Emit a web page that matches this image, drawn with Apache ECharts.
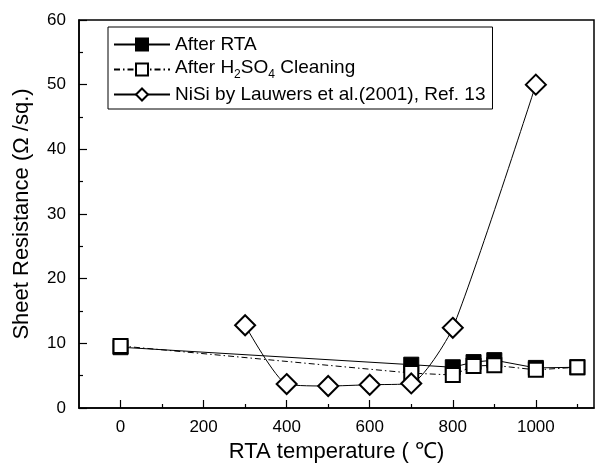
<!DOCTYPE html>
<html>
<head>
<meta charset="utf-8">
<script src="https://cdn.jsdelivr.net/npm/echarts@6/dist/echarts.min.js"></script>
<style>
  html, body { margin: 0; padding: 0; background: #fff; }
  #chart { width: 600px; height: 473px; }
</style>
</head>
<body>
<div id="chart"></div>
<script>
// RTA temperature (C) and sheet resistance (ohm/sq)
const rtaTemps = [0, 700, 800, 850, 900, 1000, 1100]
const afterRta = [9.4, 6.7, 6.3, 7.1, 7.4, 6.2, 6.3]
const afterCleaning = [9.6, 5.4, 5.1, 6.5, 6.6, 5.9, 6.3]
const lauwersTemps = [300, 400, 500, 600, 700, 800, 1000]
const lauwersNiSi = [12.8, 3.7, 3.4, 3.6, 3.8, 12.4, 50]
const xMajorTicks = [0, 200, 400, 600, 800, 1000]
const xMinorTicks = [100, 300, 500, 700, 900, 1100]

const font = '"Liberation Sans", Arial, sans-serif'

function pairs(xs, ys) {
  return xs.map((x, i) => [x, ys[i]])
}

const chart = echarts.init(document.getElementById('chart'))

const option = {
  animation: false,
  backgroundColor: '#fff',
  textStyle: { fontFamily: font, color: '#000' },
  grid: {
    left: 79,
    top: 20,
    right: 6,
    bottom: 65,
    show: true,
    borderColor: '#000',
    borderWidth: 1.5,
    backgroundColor: 'transparent'
  },
  legend: {
    orient: 'vertical',
    left: 108,
    top: 27,
    itemWidth: 56,
    itemHeight: 15,
    itemGap: 4,
    padding: [8, 7, 5, 5],
    borderColor: '#000',
    borderWidth: 1,
    backgroundColor: '#fff',
    textStyle: {
      fontFamily: font,
      fontSize: 19,
      color: '#000',
      rich: {
        a: { fontFamily: font, fontSize: 19, color: '#000', verticalAlign: 'bottom', padding: [0, 0, 4, 0] },
        s: { fontFamily: font, fontSize: 12, color: '#000', verticalAlign: 'bottom' }
      }
    },
    formatter: function (name) {
      if (name === 'After H2SO4 Cleaning') {
        return '{a|After H}{s|2}{a|SO}{s|4}{a| Cleaning}'
      }
      return name
    },
    data: ['After RTA', 'After H2SO4 Cleaning', 'NiSi by Lauwers et al.(2001), Ref. 13']
  },
  xAxis: [
    {
      type: 'value',
      min: -100,
      max: 1140,
      name: 'RTA temperature ( \u2103)',
      nameLocation: 'middle',
      nameGap: 29,
      nameTextStyle: { fontFamily: font, fontSize: 22, color: '#000' },
      splitLine: { show: false },
      axisLine: { show: true, onZero: false, lineStyle: { color: '#000', width: 1.5 } },
      axisTick: { show: true, inside: true, length: 8, customValues: xMajorTicks, lineStyle: { color: '#000', width: 1.2 } },
      axisLabel: {
        customValues: xMajorTicks,
        margin: 11,
        fontFamily: font,
        fontSize: 17,
        color: '#000',
        formatter: function (v) { return String(v) }
      }
    },
    {
      type: 'value',
      min: -100,
      max: 1140,
      position: 'bottom',
      splitLine: { show: false },
      axisLine: { show: false, onZero: false },
      axisTick: { show: true, inside: true, length: 4, customValues: xMinorTicks, lineStyle: { color: '#000', width: 1.2 } },
      axisLabel: { show: false }
    }
  ],
  yAxis: {
    type: 'value',
    min: 0,
    max: 60,
    interval: 10,
    splitLine: { show: false },
    axisLine: { show: true, onZero: false, lineStyle: { color: '#000', width: 1.5 } },
    axisTick: { show: true, inside: true, length: 8, lineStyle: { color: '#000', width: 1.2 } },
    minorTick: { show: true, splitNumber: 2, length: 4, lineStyle: { color: '#000', width: 1.2 } },
    axisLabel: { margin: 13, fontFamily: font, fontSize: 17, color: '#000' }
  },
  graphic: [
    {
      type: 'text',
      x: 22,
      y: 214,
      rotation: Math.PI / 2,
      style: {
        text: 'Sheet Resistance (\u03a9 /sq.)',
        font: '22px ' + font,
        fill: '#000',
        align: 'center',
        verticalAlign: 'middle'
      }
    }
  ],
  series: [
    {
      name: 'After RTA',
      type: 'line',
      data: pairs(rtaTemps, afterRta),
      symbol: 'rect',
      symbolSize: 15,
      lineStyle: { color: '#000', width: 1 },
      itemStyle: { color: '#000', borderColor: '#000', borderWidth: 1 }
    },
    {
      name: 'After H2SO4 Cleaning',
      type: 'line',
      data: pairs(rtaTemps, afterCleaning),
      symbol: 'rect',
      symbolSize: 14,
      lineStyle: { color: '#000', width: 1, type: [6, 3, 1.5, 3] },
      itemStyle: { color: '#fff', borderColor: '#000', borderWidth: 2 }
    },
    {
      name: 'NiSi by Lauwers et al.(2001), Ref. 13',
      type: 'line',
      data: pairs(lauwersTemps, lauwersNiSi),
      symbol: 'diamond',
      symbolSize: 20,
      smooth: 0.2,
      lineStyle: { color: '#000', width: 1 },
      itemStyle: { color: '#fff', borderColor: '#000', borderWidth: 2 }
    }
  ]
}

chart.setOption(option)
</script>
</body>
</html>
